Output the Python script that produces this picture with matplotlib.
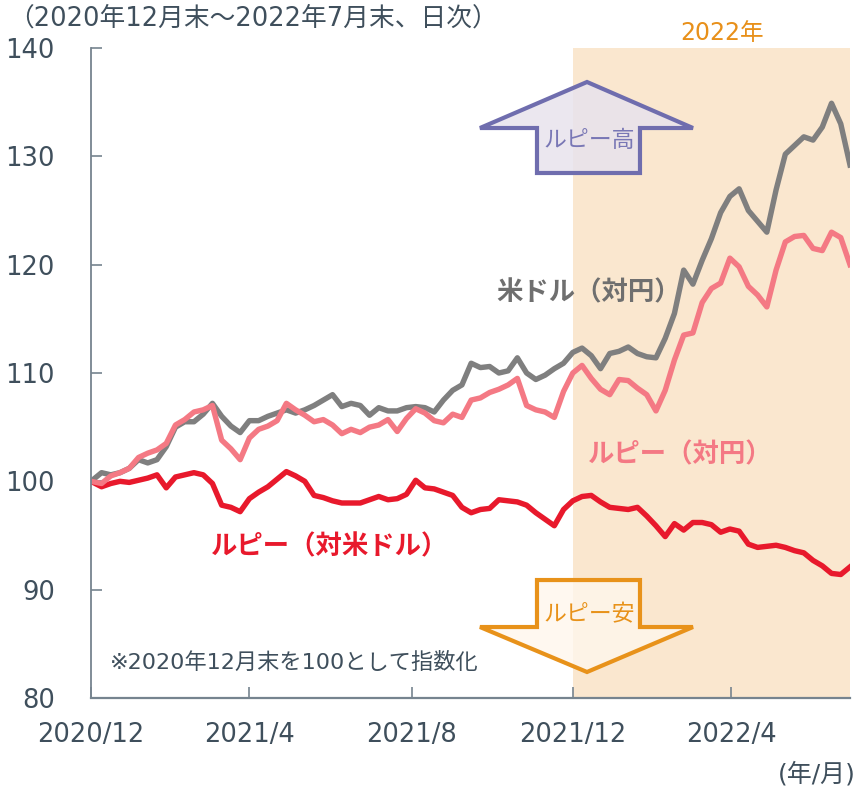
import pandas as pd
import matplotlib
matplotlib.use("Agg")
import matplotlib.pyplot as plt
from matplotlib.patches import Polygon

plt.rcParams['font.family'] = ['DejaVu Sans', 'Noto Sans CJK JP']

# weekly (Friday) observations, first point = 2020/12 month-end (=100)
dates = [pd.Timestamp('2020-12-31')] + list(pd.date_range('2021-01-08', '2022-07-29', freq='W-FRI'))

usd_jpy = [100.0,
           100.8, 100.6, 100.8, 101.2, 102.0, 101.7, 102.0, 103.2, 105.0, 105.5,
           105.5, 106.2, 107.2, 106.0, 105.1, 104.5, 105.6, 105.6, 106.0, 106.3,
           106.6, 106.3, 106.6, 107.0, 107.5, 108.0, 106.9, 107.2, 107.0, 106.1,
           106.8, 106.5, 106.5, 106.8, 106.9, 106.8, 106.4, 107.5, 108.4, 108.9,
           110.9, 110.5, 110.6, 110.0, 110.2, 111.4, 110.0, 109.4, 109.8, 110.4,
           110.9, 111.9, 112.3, 111.6, 110.4, 111.8, 112.0, 112.4, 111.8, 111.5,
           111.4, 113.2, 115.5, 119.5, 118.2, 120.4, 122.4, 124.8, 126.3, 127.0,
           125.0, 124.0, 123.0, 126.9, 130.2, 131.0, 131.8, 131.5, 132.7, 134.9,
           133.0, 129.2]

inr_jpy = [100.0,
           99.8, 100.5, 100.8, 101.2, 102.2, 102.6, 102.9, 103.5, 105.2, 105.7,
           106.4, 106.6, 107.0, 103.8, 103.0, 102.0, 104.0, 104.8, 105.1, 105.6,
           107.2, 106.6, 106.1, 105.5, 105.7, 105.2, 104.4, 104.8, 104.5, 105.0,
           105.2, 105.7, 104.6, 105.8, 106.7, 106.3, 105.6, 105.4, 106.2, 105.9,
           107.5, 107.7, 108.2, 108.5, 108.9, 109.5, 107.0, 106.6, 106.4, 105.9,
           108.3, 110.0, 110.7, 109.5, 108.5, 108.0, 109.4, 109.3, 108.6, 108.0,
           106.5, 108.4, 111.2, 113.5, 113.7, 116.5, 117.8, 118.3, 120.6, 119.8,
           118.0, 117.2, 116.1, 119.5, 122.1, 122.6, 122.7, 121.5, 121.3, 123.0,
           122.5, 120.0]

inr_usd = [100.0,
           99.5, 99.8, 100.0, 99.9, 100.1, 100.3, 100.6, 99.4, 100.4, 100.6,
           100.8, 100.6, 99.8, 97.8, 97.6, 97.2, 98.4, 99.0, 99.5, 100.2,
           100.9, 100.5, 100.0, 98.7, 98.5, 98.2, 98.0, 98.0, 98.0, 98.3,
           98.6, 98.3, 98.4, 98.8, 100.1, 99.4, 99.3, 99.0, 98.7, 97.6,
           97.1, 97.4, 97.5, 98.3, 98.2, 98.1, 97.8, 97.1, 96.5, 95.9,
           97.4, 98.2, 98.6, 98.7, 98.1, 97.6, 97.5, 97.4, 97.6, 96.8,
           95.9, 94.9, 96.1, 95.5, 96.2, 96.2, 96.0, 95.3, 95.6, 95.4,
           94.2, 93.9, 94.0, 94.1, 93.9, 93.6, 93.4, 92.7, 92.2, 91.5,
           91.4, 92.1]

tick_dates = ['2020-12-31', '2021-04-30', '2021-08-31', '2021-12-31', '2022-04-30']
tick_labels = ['2020/12', '2021/4', '2021/8', '2021/12', '2022/4']
y_ticks = [80, 90, 100, 110, 120, 130, 140]
shade_start = '2021-12-31'

text_col = '#3f4f5c'
axis_col = '#76848f'

fig = plt.figure(figsize=(8.57, 7.88), dpi=100)
ax = fig.add_axes([91 / 857, 90 / 788, 759 / 857, 650 / 788])

ax.axvspan(pd.Timestamp(shade_start), dates[-1], color='#fae7cf', lw=0, zorder=0)

ax.plot(dates, inr_usd, color='#e8192c', lw=3.9, solid_joinstyle='round', zorder=2)
ax.plot(dates, usd_jpy, color='#7f7f7f', lw=3.9, solid_joinstyle='round', zorder=2)
ax.plot(dates, inr_jpy, color='#f47984', lw=3.9, solid_joinstyle='round', zorder=2)

ax.set_xlim(dates[0], dates[-1])
ax.set_ylim(80, 140)
ax.set_yticks(y_ticks)
ax.set_xticks(pd.to_datetime(tick_dates))
ax.set_xticklabels(tick_labels)
ax.tick_params(direction='in', length=8, width=1.2, color=axis_col,
               labelcolor=text_col, labelsize=18.5)
ax.tick_params(axis='y', pad=26)
ax.tick_params(axis='x', pad=17)
for s in ['top', 'right']:
    ax.spines[s].set_visible(False)
ax.spines['left'].set_color(axis_col)
ax.spines['left'].set_linewidth(1.3)
ax.spines['bottom'].set_color(axis_col)
ax.spines['bottom'].set_linewidth(1.6)

# block arrows
up = [(0.5876, 0.8077), (0.7233, 0.8077), (0.7233, 0.8769), (0.7931, 0.8769),
      (0.6535, 0.9477), (0.5125, 0.8769), (0.5876, 0.8769)]
down = [(0.5876, 0.1815), (0.7233, 0.1815), (0.7233, 0.1092), (0.7931, 0.1092),
        (0.6535, 0.0400), (0.5125, 0.1092), (0.5876, 0.1092)]
ax.add_patch(Polygon(up, closed=True, transform=ax.transAxes, facecolor=(0.91, 0.89, 0.93, 0.85),
                     edgecolor='#6f6dae', lw=3.0, clip_on=False, zorder=3))
ax.add_patch(Polygon(down, closed=True, transform=ax.transAxes, facecolor=(1.0, 0.97, 0.93, 0.8),
                     edgecolor='#e8921a', lw=3.0, clip_on=False, zorder=3))
ax.text(0.657, 0.857, 'ルピー高', transform=ax.transAxes, ha='center', va='center',
        fontsize=16.5, color='#7977b5', zorder=4)
ax.text(0.657, 0.128, 'ルピー安', transform=ax.transAxes, ha='center', va='center',
        fontsize=16.5, color='#e8921a', zorder=4)

# series labels
ax.text(0.655, 0.623, '米ドル（対円）', transform=ax.transAxes, ha='center', va='center',
        fontsize=19, fontweight='bold', color='#6f6f6f')
ax.text(0.777, 0.374, 'ルピー（対円）', transform=ax.transAxes, ha='center', va='center',
        fontsize=19, fontweight='bold', color='#f47984')
ax.text(0.314, 0.231, 'ルピー（対米ドル）', transform=ax.transAxes, ha='center', va='center',
        fontsize=19, fontweight='bold', color='#e8192c')

ax.text(0.831, 1.023, '2022年', transform=ax.transAxes, ha='center', va='center',
        fontsize=17, color='#e8901a')
ax.text(0.025, 0.055, '※2020年12月末を100として指数化', transform=ax.transAxes,
        ha='left', va='center', fontsize=16, color=text_col)

fig.text(8 / 857, 1 - 19 / 788, '（2020年12月末～2022年7月末、日次）', ha='left', va='center',
         fontsize=18.5, color=text_col)
fig.text(856 / 857, 1 - 774 / 788, '(年/月)', ha='right', va='center',
         fontsize=18, color=text_col)

fig.savefig('out.png', dpi=100)
